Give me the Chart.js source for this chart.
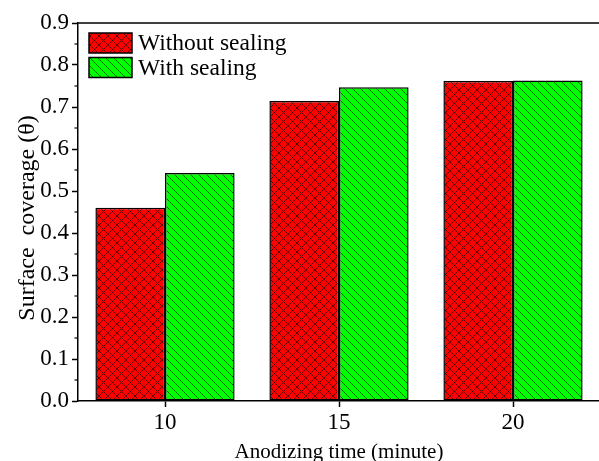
<!DOCTYPE html>
<html>
<head>
  <title>Surface coverage vs anodizing time</title>
  <script src="https://cdn.jsdelivr.net/npm/chart.js"></script>
  <style>
    html, body { margin: 0; padding: 0; background: #fff; overflow: hidden; }
    #chart { display: block; }
  </style>
</head>
<body>
  <canvas id="chart" width="610" height="475"></canvas>

  <script>
    const categories = ['10', '15', '20'];
    const withoutSealing = [0.46, 0.714, 0.762];
    const withSealing = [0.543, 0.747, 0.763];
    const seriesNames = ['Without sealing', 'With sealing'];
    const yTicks = { min: 0, max: 0.9, step: 0.1 };
    const yTitle = 'Surface  coverage (\u03b8)';
    const xTitle = 'Anodizing time (minute)';

    const FONT = "'Liberation Serif', 'Times New Roman', serif";

    const ctx = document.getElementById('chart').getContext('2d');

    // hatch fills: red crosshatch, green with "\" lines
    function makePattern(bg, period, cross) {
      const c = document.createElement('canvas');
      c.width = period; c.height = period;
      const g = c.getContext('2d');
      g.fillStyle = bg;
      g.fillRect(0, 0, period, period);
      g.strokeStyle = '#000';
      g.lineWidth = 0.6;
      g.beginPath();
      for (let k = -1; k <= 1; k++) {
        g.moveTo(k * period, 0);
        g.lineTo(k * period + period, period);
        if (cross) {
          g.moveTo(k * period, period);
          g.lineTo(k * period + period, 0);
        }
      }
      g.stroke();
      return ctx.createPattern(c, 'repeat');
    }

    const redHatch = makePattern('#ff0000', 9, true);
    const greenHatch = makePattern('#00ff00', 8, false);

    // axis frame line on top, minor ticks, y title, legend in the corner
    const extras = {
      id: 'extras',
      afterDatasetsDraw(chart) {
        const c = chart.ctx;
        const area = chart.chartArea;
        const y = chart.scales.y;
        c.save();
        c.strokeStyle = '#000';
        c.lineWidth = 1.5;
        c.beginPath();
        c.moveTo(area.left, area.top);
        c.lineTo(chart.width, area.top);
        c.stroke();

        c.lineWidth = 1.2;
        const ticks = y.ticks;
        for (let i = 0; i < ticks.length - 1; i++) {
          const py = y.getPixelForValue((ticks[i].value + ticks[i + 1].value) / 2);
          c.beginPath();
          c.moveTo(area.left - 3.5, py);
          c.lineTo(area.left, py);
          c.stroke();
        }

        // y title, a bit below the middle of the axis like the original
        c.save();
        c.translate(27.5, (area.top + area.bottom) / 2 + 6);
        c.rotate(-Math.PI / 2);
        c.font = '24px ' + FONT;
        c.fillStyle = '#000';
        c.textAlign = 'center';
        c.textBaseline = 'middle';
        c.fillText(yTitle, 0, 0);
        c.restore();

        // legend
        const fills = [redHatch, greenHatch];
        c.font = '23.5px ' + FONT;
        c.textBaseline = 'middle';
        for (let i = 0; i < seriesNames.length; i++) {
          const bx = area.left + 11, by = area.top + 10 + i * 24.5, bw = 43, bh = 20;
          c.fillStyle = fills[i];
          c.fillRect(bx, by, bw, bh);
          c.lineWidth = 1.5;
          c.strokeRect(bx, by, bw, bh);
          c.fillStyle = '#000';
          c.fillText(seriesNames[i], bx + bw + 6, by + bh / 2 + 1);
        }
        c.restore();
      }
    };

    const chart = new Chart(ctx, {
      type: 'bar',
      data: {
        labels: categories,
        datasets: [
          {
            label: seriesNames[0],
            data: withoutSealing,
            backgroundColor: redHatch,
            borderColor: '#000',
            borderWidth: 1.5,
            borderSkipped: false
          },
          {
            label: seriesNames[1],
            data: withSealing,
            backgroundColor: greenHatch,
            borderColor: '#000',
            borderWidth: 1.5,
            borderSkipped: false
          }
        ]
      },
      options: {
        responsive: false,
        animation: false,
        devicePixelRatio: 1,
        layout: { padding: { left: 0, top: 23, right: 10, bottom: 0 } },
        datasets: { bar: { categoryPercentage: 0.8, barPercentage: 1.0 } },
        plugins: {
          legend: { display: false },
          tooltip: { enabled: false }
        },
        scales: {
          x: {
            grid: {
              offset: false,
              drawOnChartArea: false,
              tickLength: 6,
              tickColor: '#000',
              tickWidth: 1.5
            },
            border: { color: '#000', width: 1.5 },
            ticks: {
              color: '#000',
              padding: 2,
              maxRotation: 0,
              font: { family: FONT, size: 23 }
            },
            title: {
              display: true,
              text: xTitle,
              color: '#000',
              font: { family: FONT, size: 21 },
              padding: { top: 0, bottom: 10 }
            },
            afterFit(scale) { scale.height = 74; }
          },
          y: {
            min: yTicks.min,
            max: yTicks.max,
            grid: {
              drawOnChartArea: false,
              tickLength: 6,
              tickColor: '#000',
              tickWidth: 1.5
            },
            border: { color: '#000', width: 1.5 },
            ticks: {
              stepSize: yTicks.step,
              color: '#000',
              padding: 3,
              font: { family: FONT, size: 23 },
              callback: v => v.toFixed(1)
            },
            afterFit(scale) { scale.width = 78; }
          }
        }
      },
      plugins: [extras]
    });
  </script>
</body>
</html>
